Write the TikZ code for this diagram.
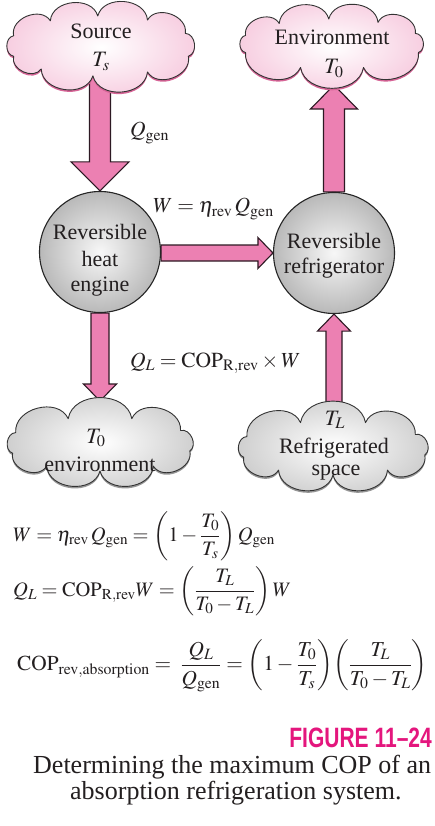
\documentclass[tikz,border=0pt]{standalone}
\usepackage{mathptmx}
\usepackage{amsmath}
\usepackage{fontspec}
\setmainfont{Liberation Serif}
\newfontfamily\bodyfont{Liberation Serif}
\newfontfamily\figfont[FakeStretch=0.75]{Liberation Sans}
\usetikzlibrary{calc}
\pgfdeclarelayer{paper}
\pgfdeclarelayer{background}
\pgfsetlayers{paper,background,main}
\definecolor{arrowpink}{RGB}{236,128,178}
\definecolor{arrowedge}{RGB}{45,25,35}
\definecolor{cloudpink}{RGB}{247,205,224}
\definecolor{cloudrim}{RGB}{214,100,150}
\definecolor{cloudgray}{RGB}{205,205,205}
\definecolor{cloudgrayrim}{RGB}{150,150,150}
\definecolor{figmag}{RGB}{228,22,125}
\definecolor{txtc}{RGB}{35,31,32}
\tikzset{
  cloudline/.style={draw=black!80, line width=0.9pt, line join=round},
  ballnode/.style={circle, minimum size=121pt, inner sep=0pt, draw=black!85, line width=1.1pt,
    inner color=gray!6, outer color=gray!55},
  fatarr/.style={fill=arrowpink, draw=arrowedge, line width=1.1pt, line join=miter},
  bodytext/.style={font=\bodyfont\fontsize{22}{26}\selectfont, text=txtc, inner sep=0pt},
  lbl/.style={font=\bodyfont\fontsize{21.5}{26}\selectfont, text=txtc, inner sep=0pt},
  eqn/.style={font=\bodyfont\fontsize{20.5}{24}\selectfont, text=txtc, inner sep=0pt},
  capt/.style={font=\bodyfont\fontsize{26}{30}\selectfont, text=txtc, inner sep=0pt},
}
% cloud outline: #1 cx, #2 cy, #3 rx, #4 ry, #5 start angle, #6 further angles (last = start+360)
\newcommand\cloudpath[6]{({#1+#3*cos(#5)},{#2+#4*sin(#5)})
  \foreach \a in {#6} { to[bend left=80, looseness=1.15] ({#1+#3*cos(\a)},{#2+#4*sin(\a)}) } -- cycle}
% #1 name, #2 cx, #3 cy, #4 rx, #5 ry, #6 start, #7 angles, #8 rim colour, #9 outer colour
\newcommand\drawcloud[9]{%
  \coordinate (#1) at (#2,#3);
  \fill[#8, yshift=-2pt] \cloudpath{#2}{#3}{#4}{#5}{#6}{#7};
  \shade[inner color=white, outer color=#9] \cloudpath{#2}{#3}{#4}{#5}{#6}{#7};
  \draw[cloudline] \cloudpath{#2}{#3}{#4}{#5}{#6}{#7};}
% #1 tail, #2 tip, #3 shaft half width, #4 head half width, #5 head length
\newcommand\fatarrow[5]{%
  \coordinate (fa-c) at ($(#2)!#5pt!(#1)$);
  \draw[fatarr] ($(#1)!#3pt!90:(#2)$) -- ($(fa-c)!#3pt!90:(#2)$) -- ($(fa-c)!#4pt!90:(#2)$)
    -- (#2) -- ($(fa-c)!#4pt!-90:(#2)$) -- ($(fa-c)!#3pt!-90:(#2)$) -- ($(#1)!#3pt!-90:(#2)$) -- cycle;}
\begin{document}
\begin{tikzpicture}[x=1pt,y=-1pt]
\begin{pgfonlayer}{paper}
\fill[white] (0,0) rectangle (434,826);
\end{pgfonlayer}
\useasboundingbox (0,0) rectangle (434,826);
% clouds
\drawcloud{src}{101}{46}{93}{30}{160}{200,237,268,300,335,380,420,455,490,520}{cloudrim}{cloudpink}
\drawcloud{env}{332}{44}{92}{25}{160}{200,235,268,300,335,380,430,470,520}{cloudrim}{cloudpink}
\drawcloud{envL}{100}{444}{93}{27}{160}{205,250,290,330,375,415,450,485,520}{cloudgrayrim}{cloudgray}
\drawcloud{cold}{333}{448}{95}{27}{160}{205,250,290,330,375,415,450,485,520}{cloudgrayrim}{cloudgray}
% machines
\node[ballnode] (eng) at (100,252) {};
\node[ballnode] (ref) at (334,253) {};
% arrows (behind)
\coordinate (envtip) at (333,85);
\coordinate (envLtip) at (100,401);
\begin{pgfonlayer}{background}
\coordinate (a1t) at (eng.north |- src);
\fatarrow{a1t}{eng.north}{10.5}{29}{29}
\coordinate (a2h) at (ref.north |- envtip);
\fatarrow{ref.north}{a2h}{10.5}{23.5}{24}
\coordinate (a3h) at (eng.south |- envLtip);
\fatarrow{eng.south}{a3h}{9}{16.5}{17}
\coordinate (a4t) at (ref.south |- cold);
\fatarrow{a4t}{ref.south}{8}{16.5}{17}
\coordinate (a5t) at (eng.east |- ref.west);
\fatarrow{a5t}{ref.west}{8}{15.5}{15}
\end{pgfonlayer}
% texts in clouds
\node[bodytext, anchor=base] (srcA) at (101,39) {Source};
\node[bodytext, anchor=base] (srcB) at (101,67) {$T_s$};
\node[bodytext, anchor=base] (envA) at (332,45) {Environment};
\node[bodytext, anchor=base] (envB) at (334,74) {$T_0$};
\node[bodytext, anchor=base] (envLA) at (96,443) {$T_0$};
\node[bodytext, anchor=base] (envLB) at (100,471) {environment};
\node[bodytext, anchor=base] (coldA) at (335,425) {$T_L$};
\node[bodytext, anchor=base] (coldB) at (334,453) {Refrigerated};
\node[bodytext, anchor=base] (coldC) at (336,475) {space};
% texts in circles
\node[bodytext, anchor=base] (engA) at (100,240) {Reversible};
\node[bodytext, anchor=base] (engB) at (100,266) {heat};
\node[bodytext, anchor=base] (engC) at (100,291) {engine};
\node[bodytext, anchor=base] (refA) at (334,248) {Reversible};
\node[bodytext, anchor=base] (refB) at (334,273) {refrigerator};
% arrow labels
\node[lbl, anchor=base west] (lQgen) at (130,137) {$Q_{\mathrm{gen}}$};
\node[lbl, anchor=base west] (lW) at (153,213) {$W = \eta_{\mathrm{rev}}\, Q_{\mathrm{gen}}$};
\node[lbl, anchor=base west] (lQL) at (130,367) {$Q_L = \mathrm{COP}_{\mathrm{R,rev}} \times W$};
% equations
\node[eqn, anchor=west] (eq1) at (13,536)
  {$W = \eta_{\mathrm{rev}}\, Q_{\mathrm{gen}} = \left(1 - \dfrac{T_0}{T_s}\right) Q_{\mathrm{gen}}$};
\node[eqn, anchor=west] (eq2) at (13,591)
  {$Q_L = \mathrm{COP}_{\mathrm{R,rev}} W = \left(\dfrac{T_L}{T_0 - T_L}\right) W$};
\node[eqn, anchor=west, font=\bodyfont\fontsize{21.3}{25}\selectfont] (eq3) at (17,666)
  {$\mathrm{COP}_{\mathrm{rev,absorption}} = \; \dfrac{Q_L}{Q_{\mathrm{gen}}} = \left(1 - \dfrac{T_0}{T_s}\right)\!\left(\dfrac{T_L}{T_0 - T_L}\right)$};
% caption
\node[anchor=base east, inner sep=0pt, text=figmag, font=\figfont\bfseries\fontsize{28}{32}\selectfont] (fig) at (432,747) {FIGURE 11–24};
\node[capt, anchor=base west] (capA) at (33,773) {Determining the maximum COP of an};
\node[capt, anchor=base west] (capB) at (70,799) {absorption refrigeration system.};
\end{tikzpicture}
\end{document}
